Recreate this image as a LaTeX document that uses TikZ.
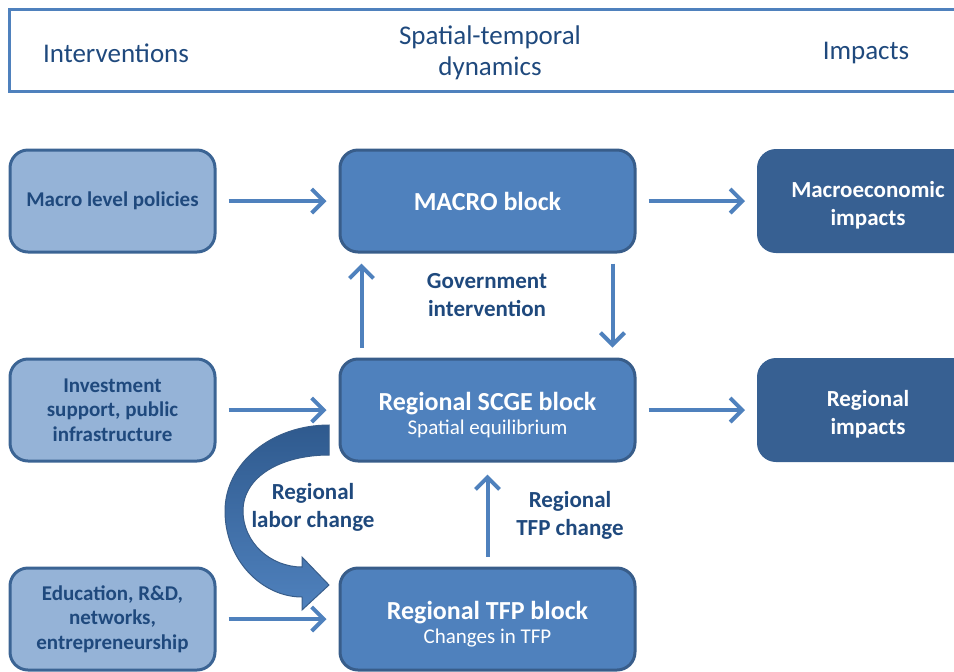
\documentclass[tikz,border=0pt]{standalone}
\usepackage{fontspec}
\setmainfont{Carlito}
\usetikzlibrary{arrows.meta}
\definecolor{hdrline}{HTML}{4F81BD}
\definecolor{lightfill}{HTML}{95B3D7}
\definecolor{lightline}{HTML}{3B6494}
\definecolor{midfill}{HTML}{4F81BD}
\definecolor{midline}{HTML}{385D8A}
\definecolor{darkfill}{HTML}{376092}
\definecolor{navy}{HTML}{1F497D}
\definecolor{curvetop}{HTML}{2F5A8E}
\newcommand{\blocktitle}[1]{{\fontsize{13}{13}\selectfont\bfseries\rule{0pt}{14pt}#1}}
\begin{document}
\begin{tikzpicture}[x=0.5pt,y=-0.5pt,
		inbox/.style={draw=lightline, line width=1.5pt, fill=lightfill, rounded corners=9pt,
			minimum width=102.5pt, minimum height=51pt, inner sep=0pt, align=center,
			text=navy, font=\fontsize{10.5}{12.2}\selectfont\bfseries},
		blockbox/.style={draw=midline, line width=1.5pt, fill=midfill, rounded corners=9pt,
			minimum width=147.5pt, minimum height=51pt, inner sep=0pt, align=center,
			text=white, font=\fontsize{10.5}{11.8}\selectfont},
		outbox/.style={draw=darkfill, line width=1pt, fill=darkfill, rounded corners=9pt,
			minimum width=110pt, minimum height=51pt, inner sep=0pt, align=center,
			text=white, font=\fontsize{11.5}{14}\selectfont\bfseries},
		flow/.style={draw=hdrline, line width=2pt, -{Straight Barb[length=6pt,width=12pt]},
			shorten <=6pt, shorten >=6pt},
		note/.style={align=center, text=navy, font=\fontsize{11.5}{14}\selectfont\bfseries},
		hdr/.style={align=center, text=navy, font=\fontsize{13.5}{15.5}\selectfont}]
	\useasboundingbox (0,0) rectangle (954,671);
	\clip (0,0) rectangle (954,671);
	% header band
	\draw[hdrline, line width=1.5pt] (9,9) rectangle (980,91);
	\node[hdr] (h1) at (116,53) {Interventions};
	\node[hdr] (h2) at (490,53) {Spatial-temporal\\dynamics};
	\node[hdr] (h3) at (866,53) {Impacts};
	% interventions
	\node[inbox] (l1) at (112.5,201) {Macro level policies};
	\node[inbox] (l2) at (112.5,410) {Investment\\support, public\\infrastructure};
	\node[inbox] (l3) at (112.5,619) {Education, R\&D,\\networks,\\entrepreneurship};
	% blocks
	\node[blockbox] (m1) at (487.5,201) {{\fontsize{13}{13}\selectfont\bfseries MACRO block}};
	\node[blockbox] (m2) at (487.5,410) {\blocktitle{Regional SCGE block}\\Spatial equilibrium};
	\node[blockbox] (m3) at (487.5,619) {\blocktitle{Regional TFP block}\\Changes in TFP};
	% impacts
	\node[outbox] (r1) at (868,201) {\rule{0pt}{12pt}Macroeconomic\\impacts};
	\node[outbox] (r2) at (868,410) {\rule{0pt}{12pt}Regional\\impacts};
	% labels
	\node[note] (g1) at (487,295) {Government\\intervention};
	\node[note] (g2) at (313,507) {Regional\\labor change};
	\node[note] (g3) at (570,515) {Regional\\TFP change};
	% curved block arrow
	\draw[draw=midline, line width=0.5pt, top color=curvetop, bottom color=midfill]
		(329,425) .. controls (272,425) and (225,463) .. (225,511)
		.. controls (225,560) and (262,597) .. (302,597)
		-- (302,610) -- (329,585) -- (302,557) -- (302,567)
		.. controls (270,567) and (243,542) .. (243,511)
		.. controls (243,476) and (282,455) .. (329,455) -- cycle;
	% flows
	\draw[flow] (l1) -- (m1);
	\draw[flow] (m1) -- (r1);
	\draw[flow] (l2) -- (m2);
	\draw[flow] (m2) -- (r2);
	\draw[flow] (l3) -- (m3);
	\draw[flow, shorten <=5pt, shorten >=5pt] ([xshift=11.5pt]m2.north west) -- ([xshift=11.5pt]m1.south west);
	\draw[flow, shorten <=5pt, shorten >=5pt] ([xshift=-12pt]m1.south east) -- ([xshift=-12pt]m2.north east);
	\draw[flow, shorten <=5pt] (m3) -- (m2);
\end{tikzpicture}
\end{document}
